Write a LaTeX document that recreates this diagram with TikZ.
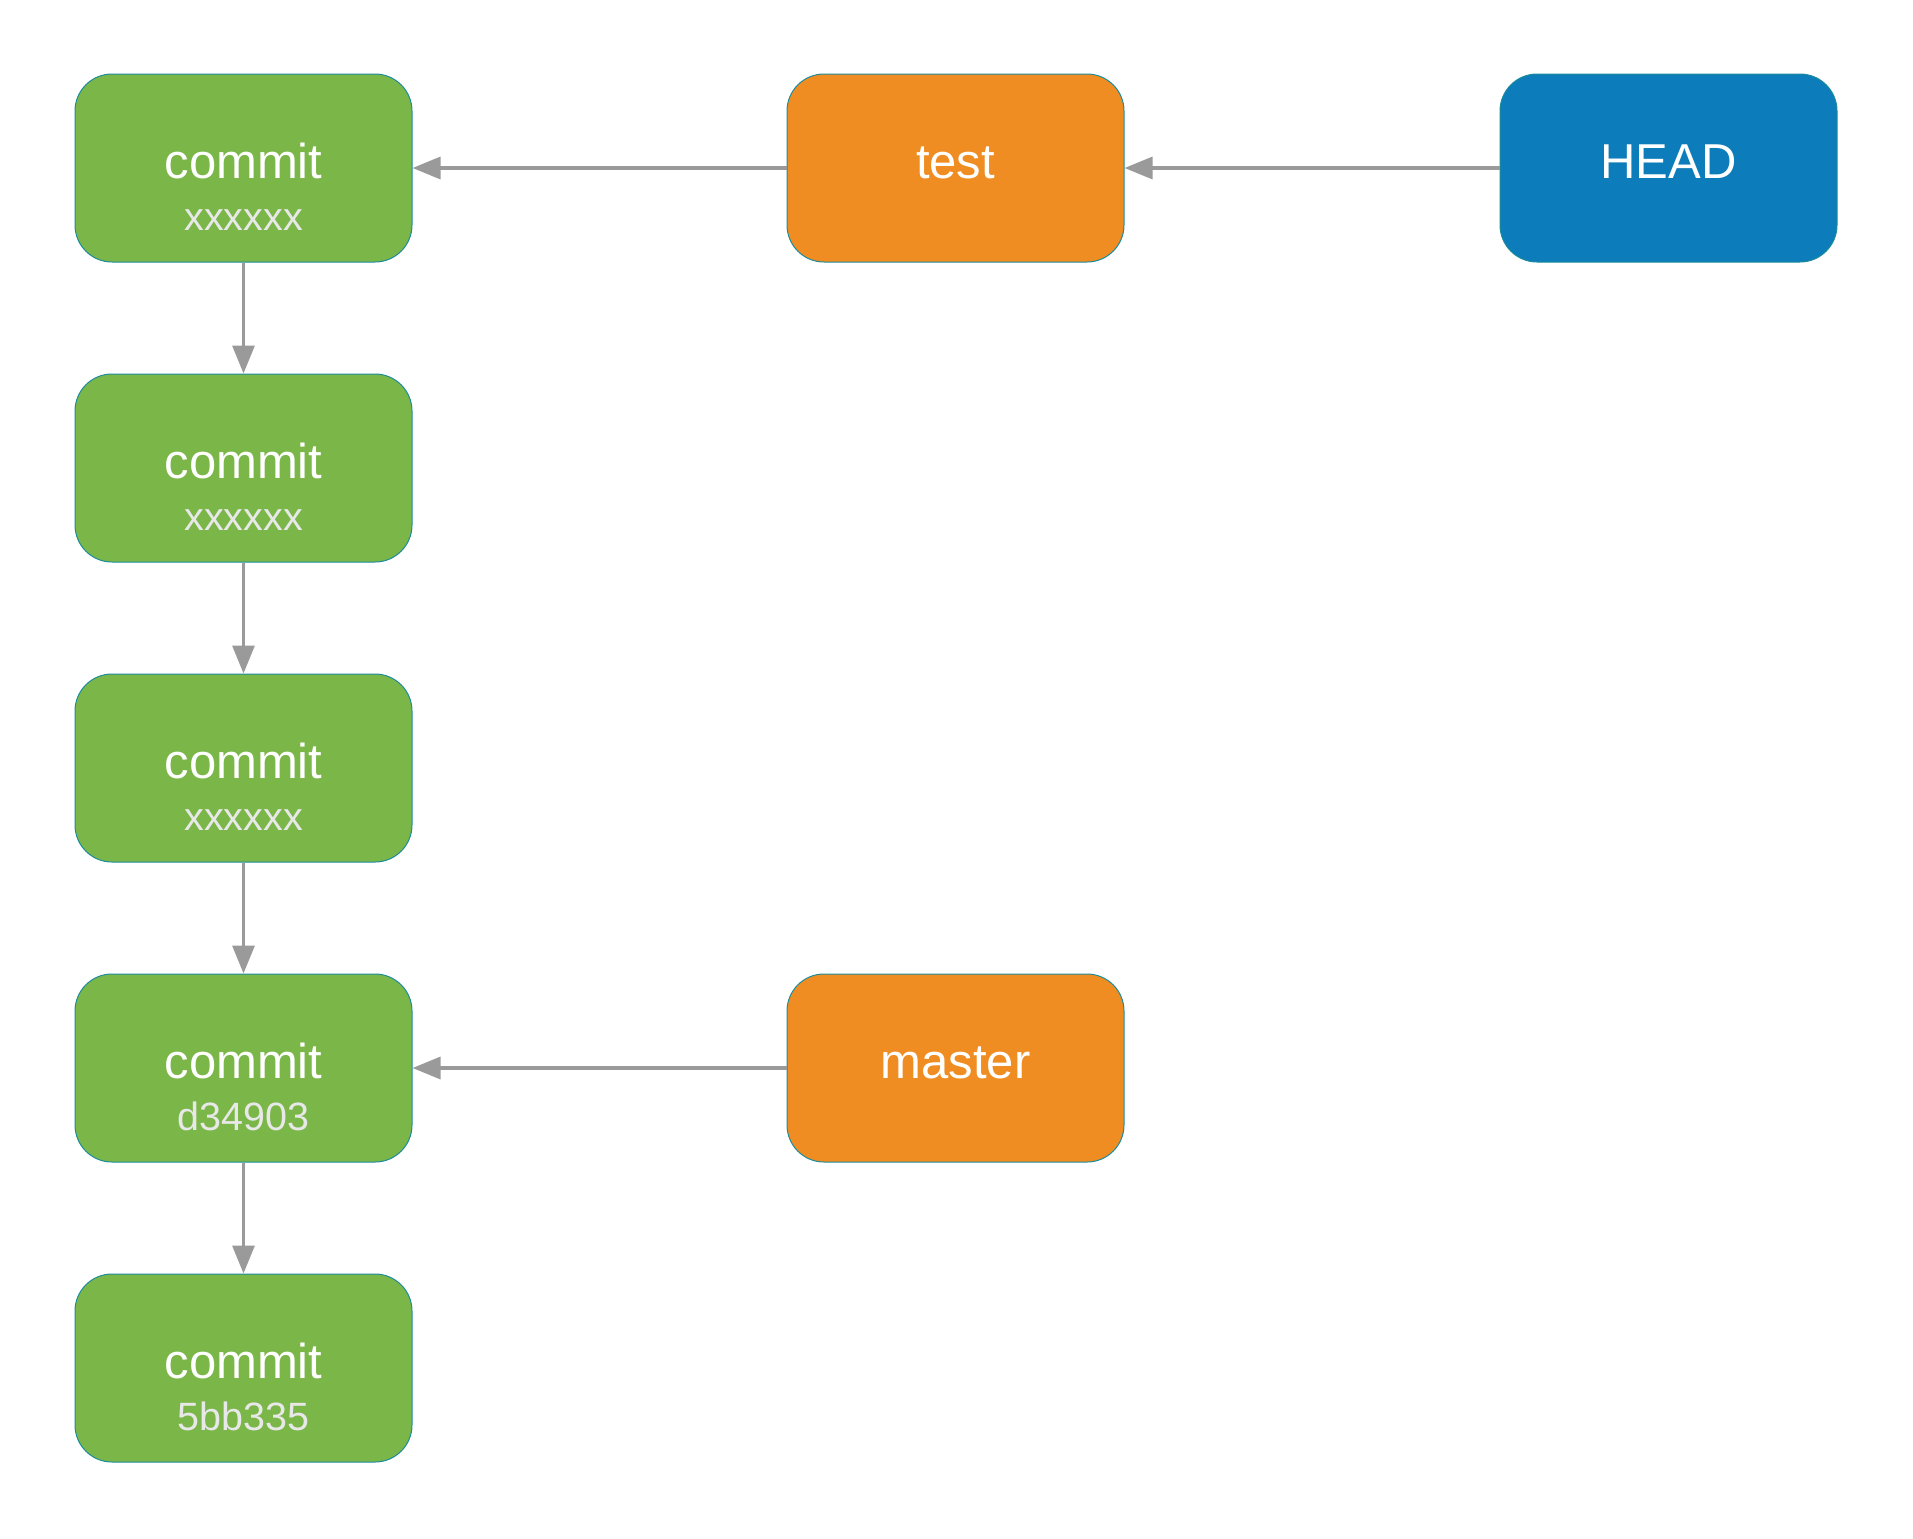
\documentclass[tikz,border=0pt]{standalone}
\usepackage{fontspec}
\setmainfont{Liberation Sans}
\usetikzlibrary{positioning, calc, arrows.meta}

\definecolor{commitgreen}{HTML}{7AB648}
\definecolor{branchorange}{HTML}{EF8D22}
\definecolor{headblue}{HTML}{0C7CBA}
\definecolor{edgeteal}{HTML}{1C8C9C}
\definecolor{linkgray}{HTML}{9A9A9A}
\definecolor{hashgray}{HTML}{E8E8E8}

\tikzset{
	box/.style={shape=rectangle, rounded corners=18.5pt, draw=edgeteal, line width=0.5pt, minimum width=168.5pt, minimum height=94pt, inner sep=0pt},
	commitbox/.style={box, fill=commitgreen},
	branchbox/.style={box, fill=branchorange},
	headbox/.style={box, fill=headblue},
	mainlabel/.style={anchor=base, inner sep=0pt, text=white, font=\fontsize{24.5pt}{28pt}\selectfont},
	hashlabel/.style={anchor=base, inner sep=0pt, text=hashgray, font=\fontsize{19.75pt}{23pt}\selectfont},
	link/.style={draw=linkgray, line width=1.6pt, -{Triangle[length=14pt, width=11pt]}}
}

\begin{document}
\begin{tikzpicture}[x=0.5pt, y=0.5pt]
		\useasboundingbox (0, 0) rectangle (1913, -1538);
		
		% commits
		\node[commitbox] (c1) at (243.5, -168) {};
		\node[commitbox] (c2) at (243.5, -468) {};
		\node[commitbox] (c3) at (243.5, -768) {};
		\node[commitbox] (c4) at (243.5, -1068) {};
		\node[commitbox] (c5) at (243.5, -1368) {};
		
		% refs
		\node[branchbox] (test) at (955.5, -168) {};
		\node[branchbox] (master) at (955.5, -1068) {};
		\node[headbox] (head) at (1668.5, -168) {};
		
		\node[mainlabel] (c1name) at ([yshift=-5pt]c1.center) {commit};
		\node[hashlabel] (c1hash) at ([yshift=-31pt]c1.center) {xxxxxx};
		\node[mainlabel] (c2name) at ([yshift=-5pt]c2.center) {commit};
		\node[hashlabel] (c2hash) at ([yshift=-31pt]c2.center) {xxxxxx};
		\node[mainlabel] (c3name) at ([yshift=-5pt]c3.center) {commit};
		\node[hashlabel] (c3hash) at ([yshift=-31pt]c3.center) {xxxxxx};
		\node[mainlabel] (c4name) at ([yshift=-5pt]c4.center) {commit};
		\node[hashlabel] (c4hash) at ([yshift=-31pt]c4.center) {d34903};
		\node[mainlabel] (c5name) at ([yshift=-5pt]c5.center) {commit};
		\node[hashlabel] (c5hash) at ([yshift=-31pt]c5.center) {5bb335};
		
		\node[mainlabel] (testname) at ([yshift=-5pt]test.center) {test};
		\node[mainlabel] (mastername) at ([yshift=-5pt]master.center) {master};
		\node[mainlabel] (headname) at ([yshift=-5pt]head.center) {HEAD};
		
		% parent links
		\draw[link] (c1) -- (c2);
		\draw[link] (c2) -- (c3);
		\draw[link] (c3) -- (c4);
		\draw[link] (c4) -- (c5);
		
		% ref links
		\draw[link] (head) -- (test);
		\draw[link] (test) -- (c1);
		\draw[link] (master) -- (c4);
	\end{tikzpicture}
\end{document}
